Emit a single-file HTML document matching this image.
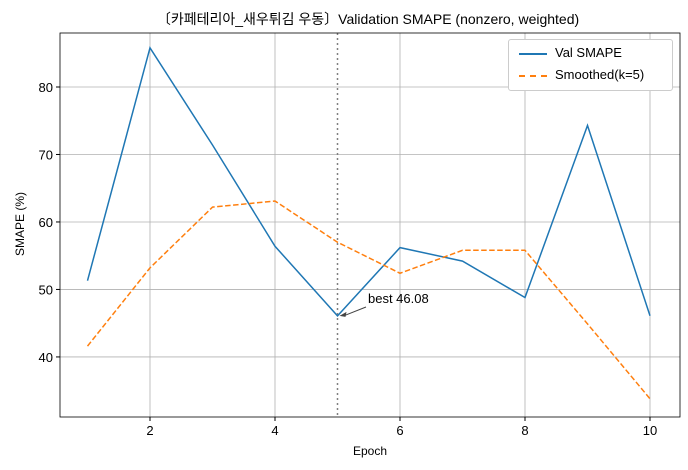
<!DOCTYPE html>
<html><head><meta charset="utf-8"><style>
body{margin:0;background:#fff;}
svg{display:block;font-family:"Liberation Sans","Noto Sans CJK KR",sans-serif;}
</style></head><body>
<svg id="chart" width="688" height="470"></svg>
<script>
const epochs=[1,2,3,4,5,6,7,8,9,10];
const valSmape=[51.3,85.8,71.4,56.4,46.08,56.2,54.2,48.8,74.3,46.1];
const smoothed=[41.6,53.2,62.2,63.1,57.0,52.4,55.8,55.8,44.9,33.8];
const xTicks=[2,4,6,8,10];
const yTicks=[40,50,60,70,80];
const bestEpoch=5, bestVal=46.08;

const L=60,R=680,T=33,B=417;
const xmin=0.56,xmax=10.48,ymin=31.1,ymax=88.0;
const xs=v=>L+(v-xmin)/(xmax-xmin)*(R-L);
const ys=v=>B-(v-ymin)/(ymax-ymin)*(B-T);
const svg=document.getElementById('chart');
const NS='http://www.w3.org/2000/svg';
function el(t,a,parent){const e=document.createElementNS(NS,t);for(const k in a)e.setAttribute(k,a[k]);(parent||svg).appendChild(e);return e;}

xTicks.forEach(t=>{const g=el('line',{x1:xs(t),x2:xs(t),y1:T,y2:B,stroke:'#b0b0b0','stroke-width':0.8});

});
yTicks.forEach(t=>{const g=el('line',{x1:L,x2:R,y1:ys(t),y2:ys(t),stroke:'#b0b0b0','stroke-width':0.8});

});
const bl=el('line',{x1:xs(bestEpoch),x2:xs(bestEpoch),y1:T,y2:B,stroke:'#808080','stroke-width':1.5,'stroke-dasharray':'2,3'});


const p1=el('polyline',{points:epochs.map((e,i)=>xs(e)+','+ys(valSmape[i])).join(' '),fill:'none',stroke:'#1f77b4','stroke-width':1.5});


const p2=el('polyline',{points:epochs.map((e,i)=>xs(e)+','+ys(smoothed[i])).join(' '),fill:'none',stroke:'#ff7f0e','stroke-width':1.5,'stroke-dasharray':'5.5,2.5'});


const fr=el('rect',{x:L,y:T,width:R-L,height:B-T,fill:'none',stroke:'#000','stroke-width':0.8});


xTicks.forEach(t=>{el('line',{x1:xs(t),x2:xs(t),y1:B,y2:B+4,stroke:'#000'});
const tx=el('text',{x:xs(t),y:B+18,'text-anchor':'middle','font-size':13});tx.textContent=t;

});
yTicks.forEach(t=>{el('line',{x1:L-4,x2:L,y1:ys(t),y2:ys(t),stroke:'#000'});
const tx=el('text',{x:L-7,y:ys(t)+5,'text-anchor':'end','font-size':13});tx.textContent=t;

});
const ax=xs(bestEpoch)+2,ay=ys(bestVal);
el('line',{x1:366,y1:307,x2:ax+4,y2:ay,stroke:'#444','stroke-width':1});
el('path',{d:`M${ax} ${ay} l7 -4 l-1 5 z`,fill:'#444'});
const an=el('text',{x:368,y:303,'font-size':13});an.textContent='best '+bestVal.toFixed(2);


</script>
<div style="position:absolute;left:0;top:0;width:688px;height:470px;pointer-events:none;font-family:'Liberation Sans','Noto Sans CJK KR',sans-serif;">
<div style="position:absolute;left:0;width:736px;top:9px;text-align:center;font-size:14px;">〔카페테리아_새우튀김 우동〕Validation SMAPE (nonzero, weighted)</div>
<div style="position:absolute;left:60px;width:620px;top:444px;text-align:center;font-size:12px;">Epoch</div>
<div style="position:absolute;left:-20px;top:217px;width:80px;text-align:center;font-size:12px;transform:rotate(-90deg);">SMAPE (%)</div>
<div style="position:absolute;left:508px;top:39px;width:163px;height:50px;border:1px solid #ccc;border-radius:3px;background:#fff;font-size:13px;">
<div style="position:absolute;left:10px;top:5px;"><span style="display:inline-block;width:28px;border-top:2px solid #1f77b4;vertical-align:middle;margin-right:8px;"></span>Val SMAPE</div>
<div style="position:absolute;left:10px;top:27px;"><span style="display:inline-block;width:28px;border-top:2px dashed #ff7f0e;vertical-align:middle;margin-right:8px;"></span>Smoothed(k=5)</div>
</div></div>
</body></html>
